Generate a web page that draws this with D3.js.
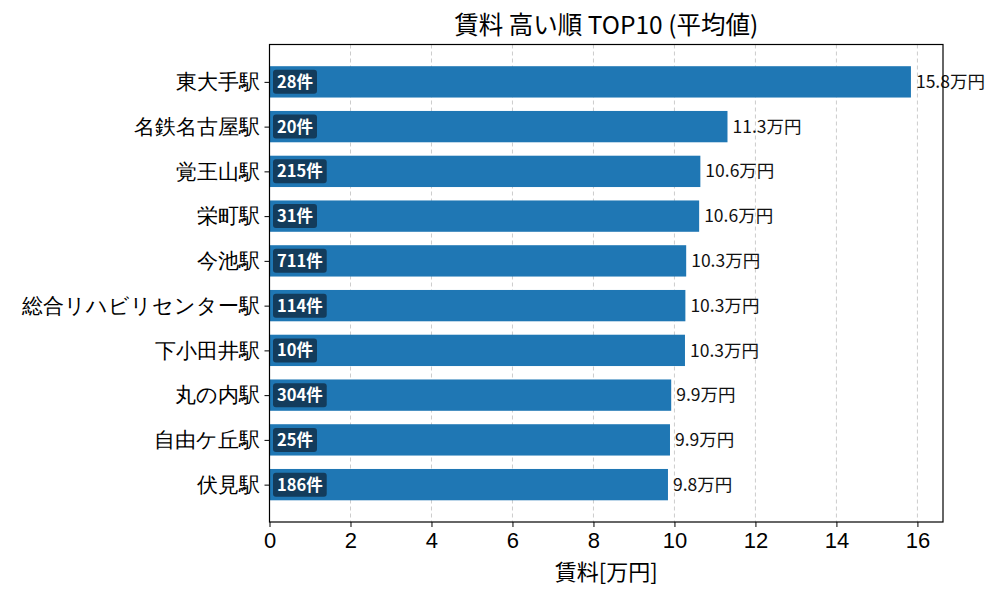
<!DOCTYPE html>
<html><head><meta charset="utf-8">
<script src="https://cdn.jsdelivr.net/npm/d3@7"></script>
<style>
body{margin:0;background:#fff;}
svg{font-family:"Noto Sans CJK JP","Noto Sans",sans-serif;}
</style></head>
<body><svg id="c" width="1000" height="600"></svg>
<script>
const stations = ["東大手駅","名鉄名古屋駅","覚王山駅","栄町駅","今池駅","総合リハビリセンター駅","下小田井駅","丸の内駅","自由ケ丘駅","伏見駅"];
const rents = [15.84, 11.31, 10.64, 10.61, 10.29, 10.27, 10.26, 9.92, 9.89, 9.84];
const counts = [28, 20, 215, 31, 711, 114, 10, 304, 25, 186];
const xTicks = [0,2,4,6,8,10,12,14,16];

const svg = d3.select("#c");
const L=269.5, R=943, T=44.5, B=522;
const x = d3.scaleLinear().domain([0, 15.84*1.05]).range([L, R]);
const y = d3.scaleLinear().domain([-0.835, 9.835]).range([T, B]);

// grid
svg.append("g").selectAll("line").data(xTicks).join("line")
  .attr("x1", d=>x(d)).attr("x2", d=>x(d)).attr("y1", T).attr("y2", B)
  .attr("stroke", "#cccccc").attr("stroke-width", 1).attr("stroke-dasharray", "4,3");

// bars
svg.append("g").selectAll("rect").data(rents).join("rect")
  .attr("x", x(0)).attr("y", (d,i)=>y(i-0.35))
  .attr("width", d=>x(d)-x(0)).attr("height", (d,i)=>y(i+0.35)-y(i-0.35))
  .attr("fill", "#1f77b4");

// value labels
svg.append("g").selectAll("text").data(rents).join("text")
  .attr("x", d=>x(d)+5).attr("y", (d,i)=>y(i)).attr("dy","0.35em")
  .attr("font-size", 17.5).attr("fill", "#111")
  .text(d=>d.toFixed(1)+"万円");

// count badges
const bg = svg.append("g").selectAll("g").data(counts).join("g");
bg.each(function(d,i){
  const g = d3.select(this);
  const t = g.append("text").attr("x", x(0)+7.5).attr("y", y(i)).attr("dy","0.36em")
    .attr("font-size", 16.5).attr("font-weight","bold").attr("fill","#fff").text(d+"件");
  const w = t.node().getComputedTextLength();
  g.insert("rect","text").attr("x", x(0)+3.5).attr("y", y(i)-12).attr("width", w+8).attr("height", 24)
    .attr("rx", 3).attr("fill", "#123552").attr("fill-opacity", 0.9);
});

// frame
svg.append("rect").attr("x", L).attr("y", T).attr("width", R-L).attr("height", B-T)
  .attr("fill","none").attr("stroke","#000").attr("stroke-width",1.2);

// x axis
const xa = svg.append("g").attr("transform", `translate(0,${B})`)
  .call(d3.axisBottom(x).tickValues(xTicks).tickSize(5).tickPadding(5).tickFormat(d3.format("d")));
xa.select(".domain").remove();
xa.selectAll("text").attr("font-size", 22).attr("font-family", "inherit").attr("fill","#000");
xa.selectAll("line").attr("stroke","#000");

// y axis
const ya = svg.append("g").attr("transform", `translate(${L},0)`)
  .call(d3.axisLeft(y).tickValues(d3.range(stations.length)).tickSize(5).tickPadding(5).tickFormat(i=>stations[i]));
ya.select(".domain").remove();
ya.selectAll("text").attr("font-size", 21).attr("font-family", "inherit").attr("fill","#000");
ya.selectAll("line").attr("stroke","#000");

// title & axis label
svg.append("text").attr("x", (L+R)/2).attr("y", 34).attr("text-anchor","middle")
  .attr("font-size", 24.5).attr("fill","#000").text("賃料 高い順 TOP10 (平均値)");
svg.append("text").attr("x", (L+R)/2).attr("y", 580).attr("text-anchor","middle")
  .attr("font-size", 22).attr("fill","#000").text("賃料[万円]");
</script></body></html>
